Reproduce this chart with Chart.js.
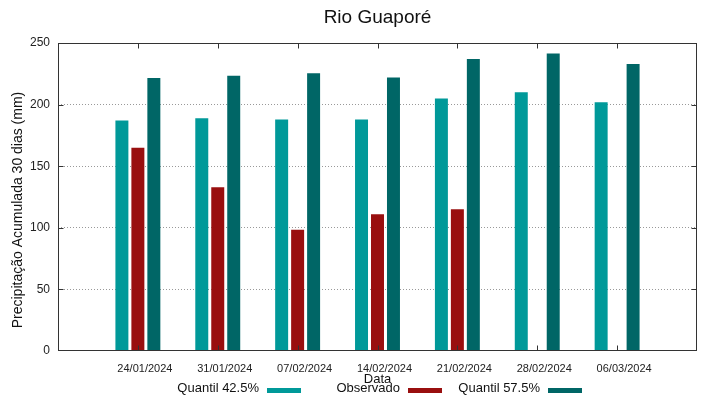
<!DOCTYPE html>
<html>
<head>
<meta charset="utf-8">
<title>Rio Guaporé</title>
<script src="https://cdn.jsdelivr.net/npm/chart.js@4.4.1/dist/chart.umd.min.js"></script>
<style>
    html, body { margin: 0; padding: 0; background: #fff; }
    #wrap { width: 719px; height: 399px; position: relative; }
</style>
</head>
<body>
<div id="wrap"><canvas id="grafico"></canvas></div>
<script>
// Dados
const datas = ['24/01/2024', '31/01/2024', '07/02/2024', '14/02/2024', '21/02/2024', '28/02/2024', '06/03/2024'];
const quantil425 = [187, 189, 188, 188, 205, 210, 202];
const observado = [165, 133, 98.5, 111, 115];
const quantil575 = [221.5, 223.5, 225.5, 222, 237, 241.5, 233];
const yTicks = [0, 50, 100, 150, 200, 250];

const titulo = 'Rio Guaporé';
const tituloY = 'Precipitação Acumulada 30 dias (mm)';
const tituloX = 'Data';

const FONTE = '"Liberation Sans", Arial, sans-serif';
Chart.defaults.font.family = FONTE;
Chart.defaults.color = '#222';

function pontos(valores) {
    return valores.map((v, i) => ({ x: i + 1, y: v }));
}

// Moldura, marcas internas, títulos e legenda no estilo gnuplot
const estiloGnuplot = {
    id: 'estiloGnuplot',
    afterDatasetsDraw(chart) {
        const { ctx, chartArea: a, scales } = chart;
        const L = Math.round(a.left) + 0.5, R = Math.round(a.right) - 0.5;
        const T = Math.round(a.top) + 0.5, B = Math.round(a.bottom) - 0.5;
        ctx.save();
        ctx.strokeStyle = '#333';
        ctx.lineWidth = 1;
        ctx.beginPath();
        yTicks.forEach(v => {
            const y = Math.min(B, Math.max(T, Math.round(scales.y.getPixelForValue(v)) + 0.5));
            ctx.moveTo(L, y); ctx.lineTo(L + 5, y);
            ctx.moveTo(R, y); ctx.lineTo(R - 5, y);
        });
        datas.forEach((d, i) => {
            const x = Math.round(scales.x.getPixelForValue(i + 1)) + 0.5;
            ctx.moveTo(x, T); ctx.lineTo(x, T + 5);
            ctx.moveTo(x, B); ctx.lineTo(x, B - 5);
        });
        ctx.stroke();
        ctx.strokeRect(L, T, R - L, B - T);
        ctx.restore();
    },
    afterDraw(chart) {
        const { ctx, chartArea: a } = chart;
        ctx.save();
        ctx.fillStyle = '#111';
        // título
        ctx.font = '19px ' + FONTE;
        ctx.textAlign = 'center';
        ctx.textBaseline = 'alphabetic';
        ctx.fillText(titulo, (a.left + a.right) / 2, 23);
        // título do eixo Y
        ctx.save();
        ctx.translate(18, 210);
        ctx.rotate(-Math.PI / 2);
        ctx.font = '14px ' + FONTE;
        ctx.textBaseline = 'middle';
        ctx.fillText(tituloY, 0, 0);
        ctx.restore();
        // título do eixo X
        ctx.font = '13px ' + FONTE;
        ctx.textBaseline = 'middle';
        ctx.fillText(tituloX, (a.left + a.right) / 2, 379);
        // legenda: texto à esquerda da amostra
        const caixas = [267, 408, 548];
        ctx.textAlign = 'right';
        chart.data.datasets.forEach((ds, i) => {
            ctx.fillStyle = '#111';
            ctx.fillText(ds.label, caixas[i] - 8, 388);
            ctx.fillStyle = ds.backgroundColor;
            ctx.fillRect(caixas[i], 388, 34, 5);
        });
        ctx.restore();
    }
};

const ctx = document.getElementById('grafico').getContext('2d');
new Chart(ctx, {
    type: 'bar',
    data: {
        datasets: [
            { label: 'Quantil 42.5%', data: pontos(quantil425), backgroundColor: '#009999' },
            { label: 'Observado', data: pontos(observado), backgroundColor: '#990f0f' },
            { label: 'Quantil 57.5%', data: pontos(quantil575), backgroundColor: '#006666' }
        ]
    },
    options: {
        responsive: true,
        maintainAspectRatio: false,
        animation: false,
        categoryPercentage: 0.6,
        barPercentage: 0.8125,
        layout: { padding: { left: 0, right: 22, top: 43, bottom: 0 } },
        plugins: {
            legend: { display: false },
            title: { display: false },
            tooltip: { enabled: false }
        },
        scales: {
            x: {
                type: 'linear',
                offset: false,
                min: 0,
                max: 8,
                grid: { display: false, offset: false },
                border: { display: false },
                ticks: {
                    stepSize: 1,
                    autoSkip: false,
                    maxRotation: 0,
                    padding: 3,
                    labelOffset: 7,
                    font: { size: 11 },
                    callback: v => datas[v - 1] || ''
                },
                afterFit: s => { s.height = 48; s.paddingLeft = 0; s.paddingRight = 0; }
            },
            y: {
                min: 0,
                max: 250,
                grid: {
                    drawTicks: false,
                    color: c => (c.tick.value === 0 || c.tick.value === 250) ? 'rgba(0,0,0,0)' : '#999'
                },
                border: { display: false, dash: [1, 2] },
                ticks: {
                    stepSize: 50,
                    padding: 8,
                    font: { size: 12 }
                },
                afterFit: s => { s.width = 58; s.paddingTop = 0; s.paddingBottom = 0; }
            }
        }
    },
    plugins: [estiloGnuplot]
});
</script>
</body>
</html>
